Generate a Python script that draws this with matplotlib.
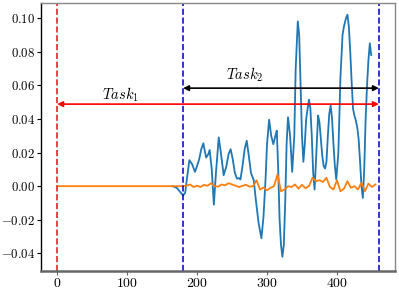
import matplotlib
matplotlib.use("Agg")
import matplotlib.pyplot as plt
import numpy as np

plt.rcParams['font.family'] = 'serif'
plt.rcParams['font.serif'] = ['cmr10']
plt.rcParams['mathtext.fontset'] = 'cm'
plt.rcParams['axes.formatter.use_mathtext'] = True

# Blue series (x, y)
blue_x = [165, 171, 176, 180, 183, 186, 189, 193, 197, 200, 203, 206, 209, 211, 213, 216, 218,
          221, 224, 227, 231, 234, 238, 242, 245, 248, 251, 254, 257, 260, 262, 265, 268, 271,
          274, 277, 281, 284, 288, 292, 295, 298, 300, 303, 306, 309, 312, 314, 316, 318, 320,
          322, 324, 326, 328, 330, 333, 336, 339, 341, 344, 346, 348, 350, 352, 354, 356, 358,
          360, 362, 364, 366, 368, 370, 373, 375, 377, 379, 381, 383, 385, 387, 389, 391, 393,
          395, 397, 399, 402, 405, 408, 410, 413, 415, 417, 419, 421, 423, 425, 427, 429, 431,
          433, 435, 437, 439, 441, 443, 445, 447, 449]
blue_y = [0.0, -0.001, -0.0035, -0.0055, -0.004, 0.006, 0.0155, 0.013, 0.0085, 0.012, 0.016,
          0.022, 0.0255, 0.021, 0.017, 0.019, 0.0215, 0.010, -0.011, 0.008, 0.029, 0.020, 0.0065,
          0.012, 0.019, 0.022, 0.016, 0.008, 0.0045, 0.0048, 0.004, 0.012, 0.022, 0.027, 0.018,
          0.008, 0.0035, -0.008, -0.022, -0.031, -0.018, 0.005, 0.025, 0.0395, 0.030, 0.025,
          0.030, 0.033, 0.010, -0.020, -0.035, -0.042, -0.035, -0.010, 0.025, 0.041, 0.030,
          0.0085, 0.030, 0.070, 0.098, 0.090, 0.060, 0.030, 0.0145, 0.025, 0.040, 0.046, 0.0515,
          0.046, 0.030, 0.008, -0.002, 0.015, 0.042, 0.038, 0.028, 0.018, 0.012, 0.0105, 0.0145,
          0.030, 0.043, 0.048, 0.040, 0.025, 0.012, 0.004, 0.020, 0.065, 0.090, 0.095, 0.100,
          0.102, 0.095, 0.080, 0.062, 0.046, 0.042, 0.039, 0.035, 0.028, 0.015, 0.000, -0.007,
          0.010, 0.040, 0.060, 0.075, 0.085, 0.078]

# Orange series (x, y)
orange_x = [0] + list(range(180, 456, 5))
orange_y = [0.0,
            0.0, 0.0003, 0.001, -0.0005, 0.0003, -0.0005, 0.0008, 0.0002, 0.0018, 0.0,
            -0.0003, 0.001, 0.0005, 0.0018, 0.001, 0.0003, -0.0005, 0.0002, 0.0008, -0.0003,
            0.0, 0.0035, -0.002, -0.0008, -0.0025, -0.001, 0.0, 0.007, -0.003, -0.002,
            0.0, -0.0005, 0.001, -0.0015, 0.0008, -0.0012, 0.0, 0.005, 0.003, 0.0035,
            0.0025, 0.005, -0.0005, -0.002, 0.0035, -0.003, -0.0015, 0.003, -0.001, 0.0,
            -0.002, 0.002, -0.003, 0.0015, -0.0005, 0.001]

task_bounds = [0, 180, 460]
task_labels = ['$Task_1$', '$Task_2$']

fig = plt.figure(figsize=(3.99, 2.89), dpi=100)
ax = fig.add_axes([0.103, 0.062, 0.887, 0.928])

ax.plot(blue_x, blue_y, color='#1f77b4', lw=1.3)
ax.plot(orange_x, orange_y, color='#ff7f0e', lw=1.3)

ax.axvline(task_bounds[0], color='#e8202a', ls='--', lw=1.2)
ax.axvline(task_bounds[1], color='#1010c0', ls='--', lw=1.2)
ax.axvline(task_bounds[2], color='#1010c0', ls='--', lw=1.2)

ax.annotate('', xy=(task_bounds[0], 0.0488), xytext=(task_bounds[2], 0.0488),
            arrowprops=dict(arrowstyle='<|-|>', color='red', lw=1.2, mutation_scale=8,
                            shrinkA=0, shrinkB=0))
ax.annotate('', xy=(task_bounds[1], 0.0583), xytext=(task_bounds[2], 0.0583),
            arrowprops=dict(arrowstyle='<|-|>', color='black', lw=1.2, mutation_scale=8,
                            shrinkA=0, shrinkB=0))
ax.text(90, 0.0545, task_labels[0], ha='center', va='center', fontsize=10.5)
ax.text(268, 0.0665, task_labels[1], ha='center', va='center', fontsize=10.5)

ax.set_xlim(-23, 483)
ax.set_ylim(-0.0505, 0.109)
ax.set_xticks([0, 100, 200, 300, 400])
ax.set_yticks([-0.04, -0.02, 0.0, 0.02, 0.04, 0.06, 0.08, 0.10])
ax.tick_params(axis='x', labelsize=10, color='#666666', length=3, pad=1.5)
ax.tick_params(axis='y', labelsize=9.2, length=3, pad=1.5)

for s in ['top', 'right']:
    ax.spines[s].set_color('#888888')
    ax.spines[s].set_linewidth(1.0)
ax.spines['bottom'].set_color('#666666')
ax.spines['bottom'].set_linewidth(1.8)
ax.spines['left'].set_color('black')
ax.spines['left'].set_linewidth(1.0)

fig.savefig('out.png', dpi=100)
